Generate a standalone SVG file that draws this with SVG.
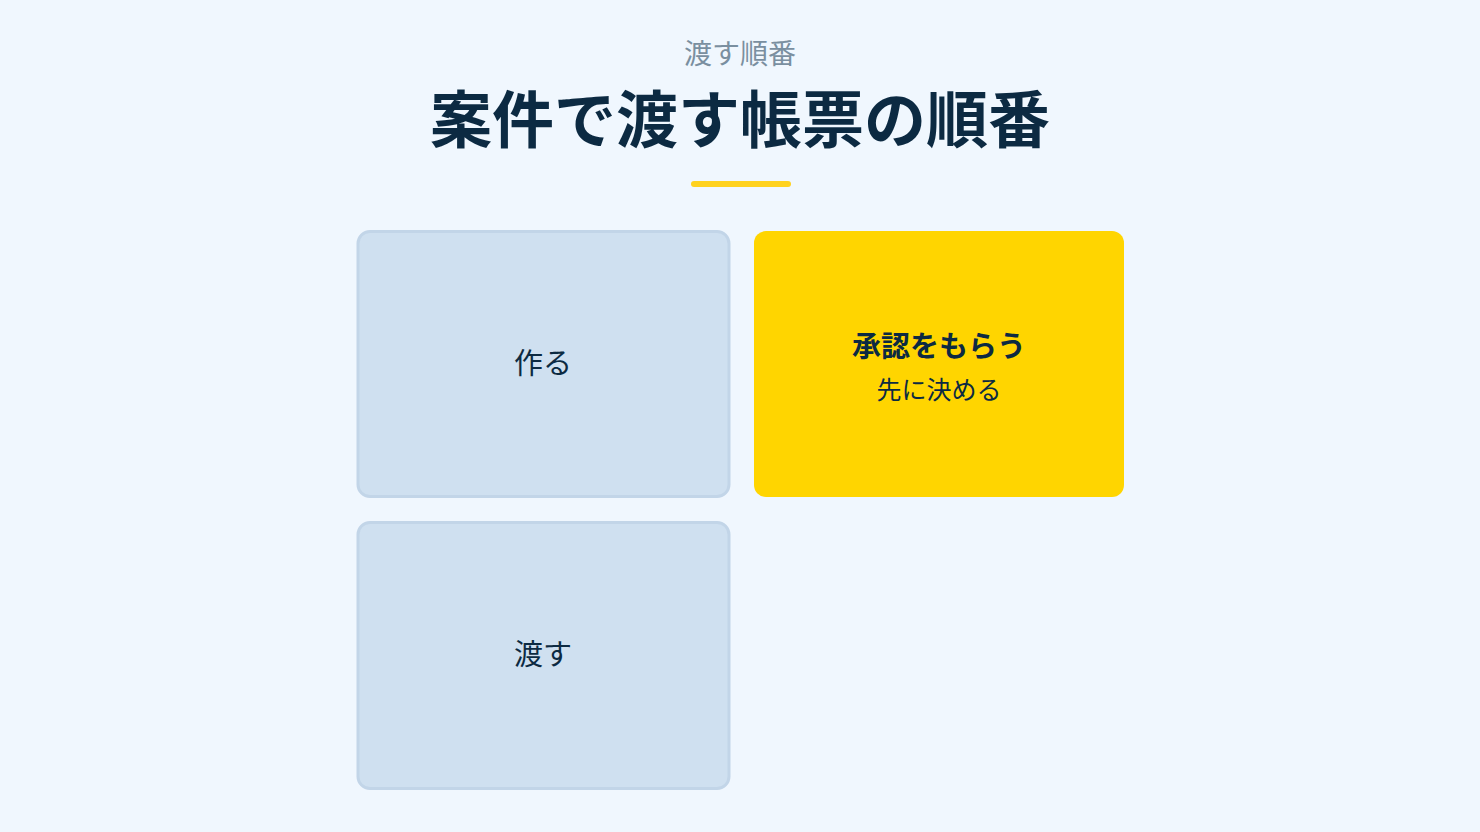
<svg xmlns="http://www.w3.org/2000/svg" width="1480" height="832" viewBox="0 0 1480 832">
<style>
.bg{fill:#F0F7FE}
.card{fill:#CFE0F0;stroke:#C2D5E8;stroke-width:3}
.hl{fill:#FFD500}
.t{font-family:"Noto Sans CJK JP","Noto Sans",sans-serif;text-anchor:middle;fill:#0C2A42}
.sub{font-size:28px;fill:#7A8FA0}
.title{font-size:62px;font-weight:700}
.lbl{font-size:29px}
.lblb{font-size:29px;font-weight:700}
.desc{font-size:25px}
</style>
<rect class="bg" x="0" y="0" width="1480" height="832"/>
<g id="header">
<text class="t sub" x="740" y="64">渡す順番</text>
<text class="t title" x="740" y="143">案件で渡す帳票の順番</text>
<rect x="691" y="181" width="100" height="6" rx="3" fill="#FFD21F"/>
</g>
<g id="node-make">
<rect class="card" x="358" y="231.5" width="371" height="265" rx="12"/>
<text class="t lbl" x="543" y="374">作る</text>
</g>
<g id="node-approve">
<rect class="hl" x="754" y="231" width="370" height="266" rx="12"/>
<text class="t lblb" x="939" y="357">承認をもらう</text>
<text class="t desc" x="939" y="399">先に決める</text>
</g>
<g id="node-hand">
<rect class="card" x="358" y="522.5" width="371" height="266" rx="12"/>
<text class="t lbl" x="543" y="665">渡す</text>
</g>
<g id="connectors"></g>
</svg>
